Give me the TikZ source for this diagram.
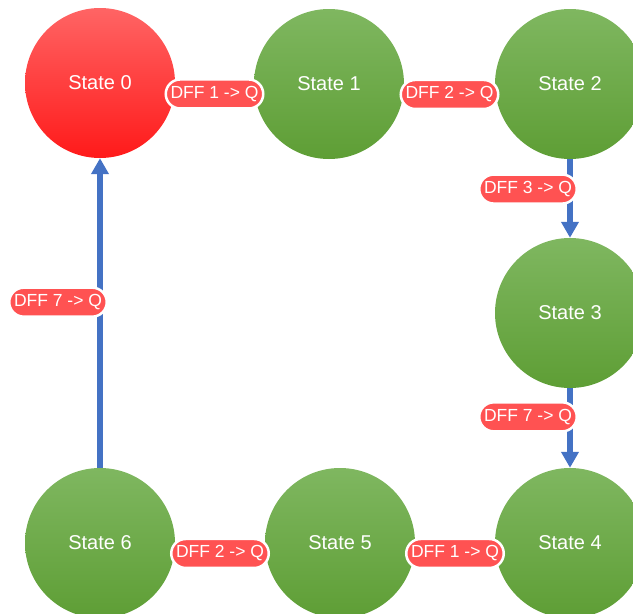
\documentclass[tikz,border=0pt]{standalone}
\usepackage{fontspec}
\setmainfont{Liberation Sans}
\usetikzlibrary{arrows.meta,shapes.misc}

\definecolor{redtop}{HTML}{FF6464}
\definecolor{redbot}{HTML}{FF1A1A}
\definecolor{greentop}{HTML}{7FB760}
\definecolor{greenbot}{HTML}{5E9E35}
\definecolor{dffred}{HTML}{FF5252}
\definecolor{linkblue}{HTML}{4472C4}

\begin{document}
\begin{tikzpicture}[x=1pt,y=-1pt]
        \useasboundingbox (0,0) rectangle (633,614);

        \tikzstyle{state}=[circle,draw=none,minimum size=150pt,inner sep=0pt,
        text=white,font=\fontsize{20}{24}\selectfont,
        top color=greentop,bottom color=greenbot]
        \tikzstyle{dff}=[rounded rectangle,fill=dffred,draw=white,line width=2.5pt,
        text=white,font=\fontsize{17.5}{21}\selectfont,minimum height=29pt,
        inner xsep=2.5pt,inner ysep=0pt]
        \tikzstyle{link}=[draw=linkblue,line width=5.5pt,
        -{Triangle[width=17pt,length=16pt]}]

        %% States
        \node[state,top color=redtop,bottom color=redbot] (s0) at (100,83) {State 0};
        \node[state] (s1) at (329,84) {State 1};
        \node[state] (s2) at (570,84) {State 2};
        \node[state] (s3) at (570,313) {State 3};
        \node[state] (s4) at (570,543) {State 4};
        \node[state] (s5) at (340,543) {State 5};
        \node[state] (s6) at (100,543) {State 6};

        %% Transitions
        \path[link] (s0.-8) -- node[dff] (t01) {DFF 1 -> Q} (s1.188);
        \path[link] (s1.-8) -- node[dff] (t12) {DFF 2 -> Q} (s2.188);
        \path[link] (s2) -- node[dff,pos=0.38,xshift=-42pt] (t23) {DFF 3 -> Q} (s3);
        \path[link] (s3) -- node[dff,pos=0.36,xshift=-42pt] (t34) {DFF 7 -> Q} (s4);
        \path[link] (s4.188) -- node[dff] (t45) {DFF 1 -> Q} (s5.-8);
        \path[link] (s5.188) -- node[dff] (t56) {DFF 2 -> Q} (s6.-8);
        \path[link] (s6) -- node[dff,pos=0.535,xshift=-42pt] (t60) {DFF 7 -> Q} (s0);

    \end{tikzpicture}
\end{document}
